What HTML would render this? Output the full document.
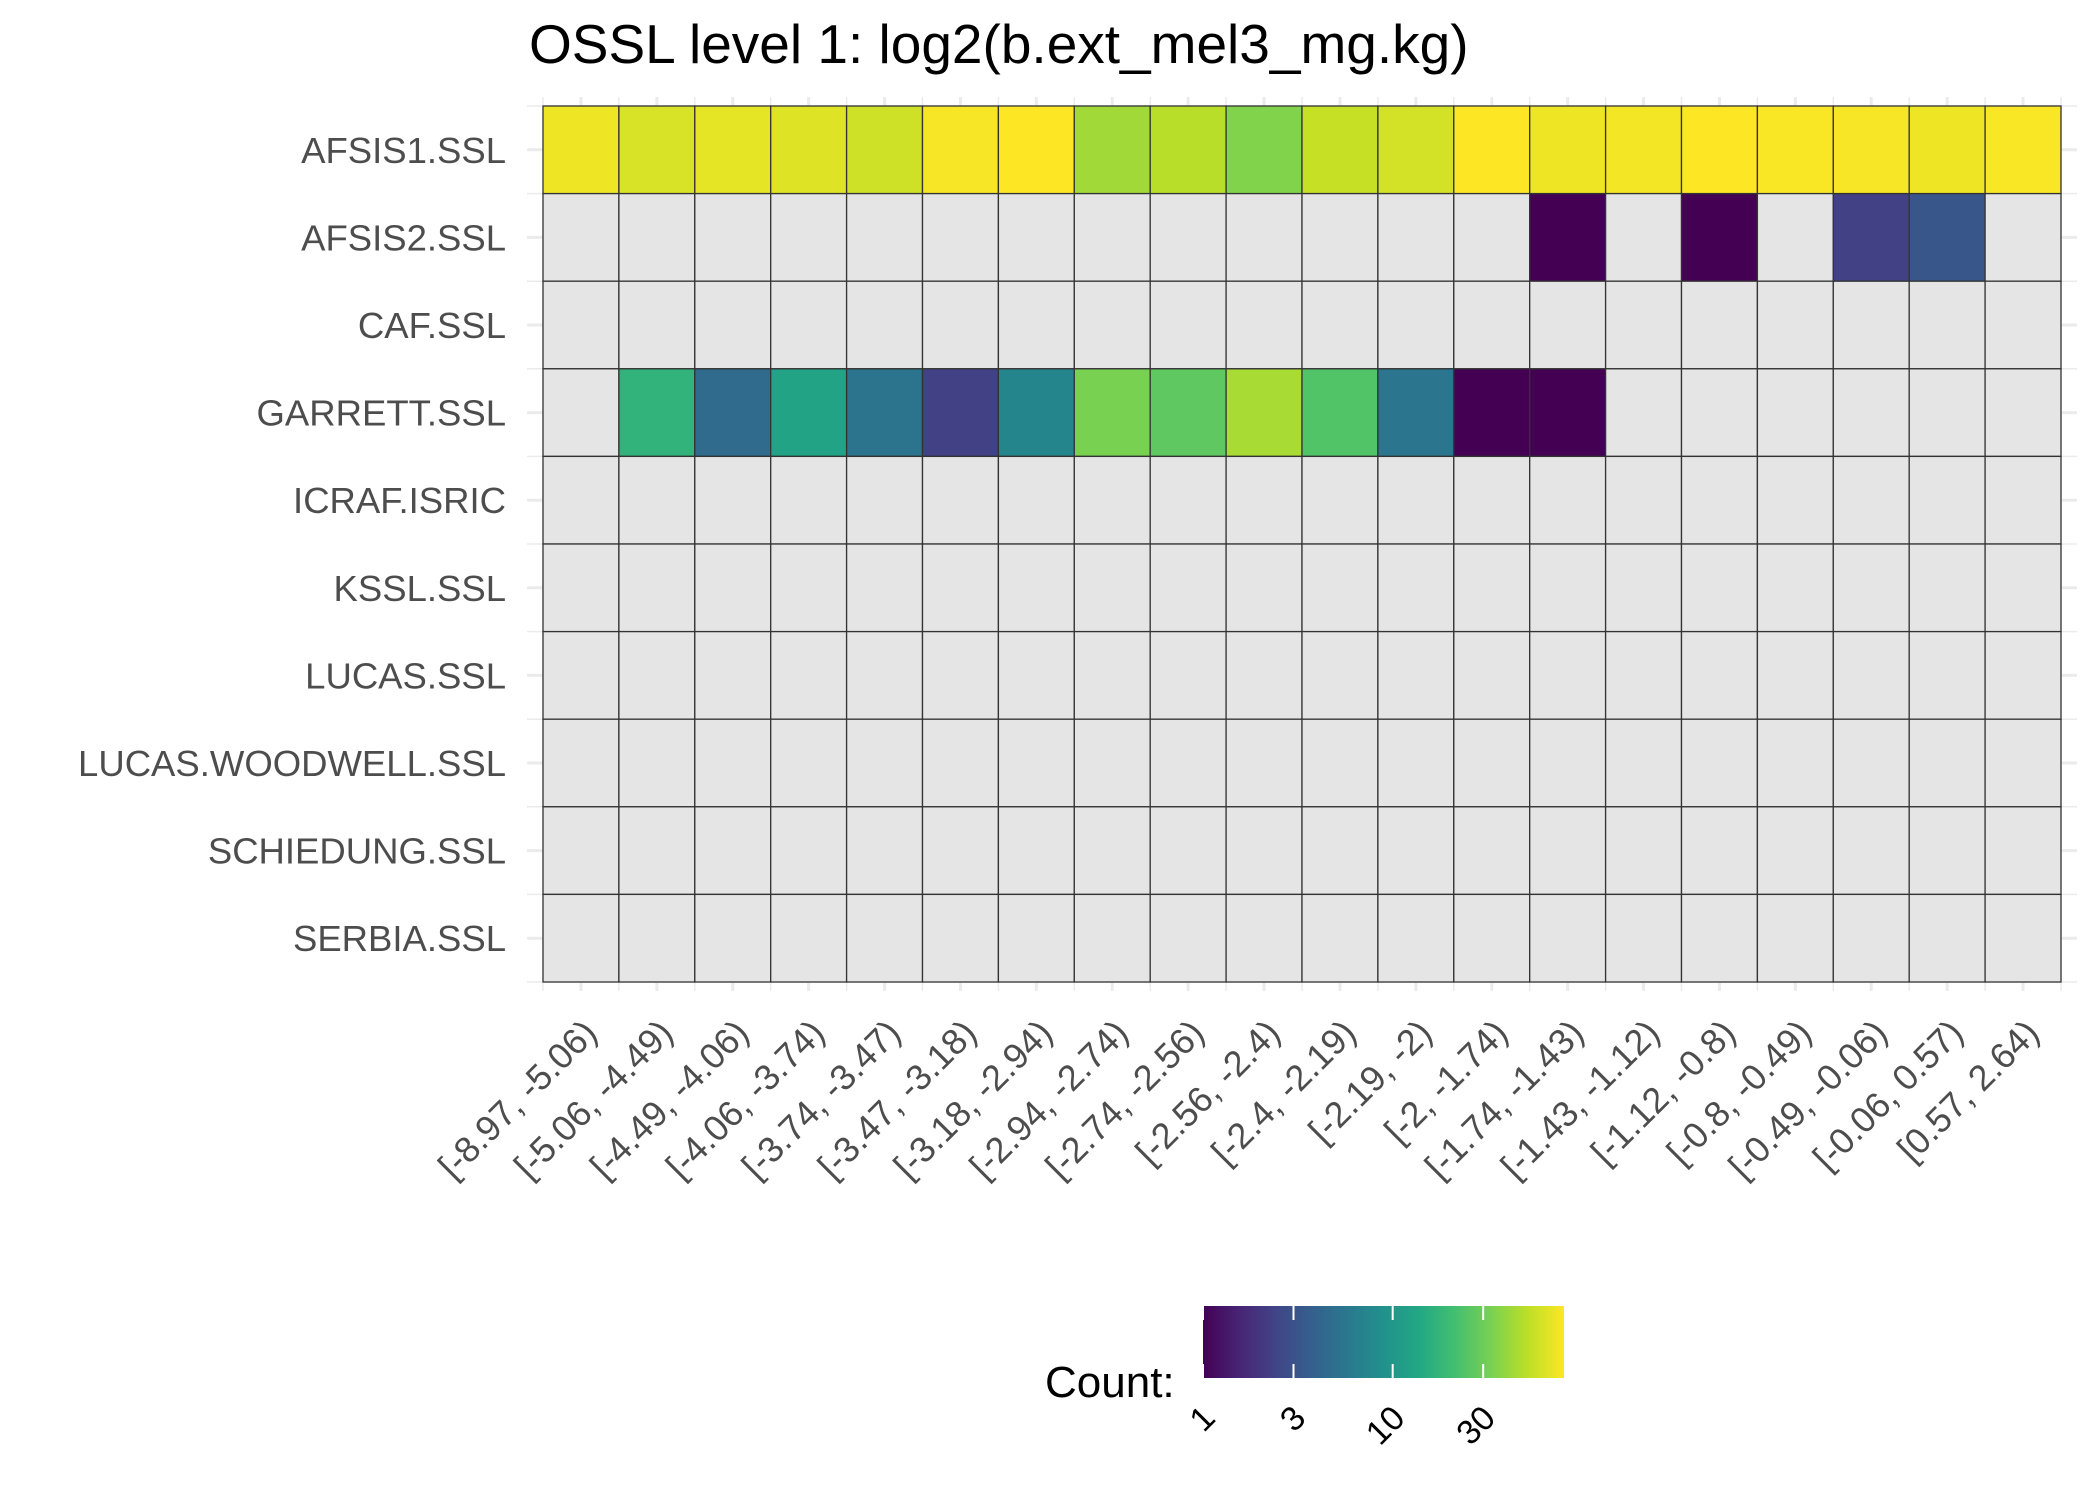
<!DOCTYPE html>
<html><head><meta charset="utf-8"><style>
html,body{margin:0;padding:0;background:#fff;}
svg{display:block;font-family:"Liberation Sans",Arial,sans-serif;}
</style></head><body>
<svg id="chart" width="2100" height="1500" viewBox="0 0 2100 1500" xmlns="http://www.w3.org/2000/svg">
<rect x="0" y="0" width="2100" height="1500" fill="#fff"/>
<text x="529" y="63" font-size="55" fill="#000">OSSL level 1: log2(b.ext_mel3_mg.kg)</text>
<g id="grid"></g>
<g id="tiles"></g>
<g id="yaxis"></g>
<g id="xaxis"></g>
<g id="legend">
<defs><linearGradient id="vir" x1="0" x2="1" y1="0" y2="0">
<stop offset="0" stop-color="#440154"/><stop offset="0.1" stop-color="#482475"/><stop offset="0.2" stop-color="#414487"/><stop offset="0.3" stop-color="#355f8d"/><stop offset="0.4" stop-color="#2a788e"/><stop offset="0.5" stop-color="#21918c"/><stop offset="0.6" stop-color="#22a884"/><stop offset="0.7" stop-color="#44bf70"/><stop offset="0.8" stop-color="#7ad151"/><stop offset="0.9" stop-color="#bddf26"/><stop offset="1" stop-color="#fde725"/>
</linearGradient></defs>
<text x="1045" y="1397" font-size="44" fill="#000">Count:</text>
<rect x="1203" y="1306" width="361" height="72" fill="url(#vir)"/>
</g>
</svg>
<script>
const categories = ["[-8.97, -5.06)","[-5.06, -4.49)","[-4.49, -4.06)","[-4.06, -3.74)","[-3.74, -3.47)","[-3.47, -3.18)","[-3.18, -2.94)","[-2.94, -2.74)","[-2.74, -2.56)","[-2.56, -2.4)","[-2.4, -2.19)","[-2.19, -2)","[-2, -1.74)","[-1.74, -1.43)","[-1.43, -1.12)","[-1.12, -0.8)","[-0.8, -0.49)","[-0.49, -0.06)","[-0.06, 0.57)","[0.57, 2.64)"];
const datasets = ["AFSIS1.SSL","AFSIS2.SSL","CAF.SSL","GARRETT.SSL","ICRAF.ISRIC","KSSL.SSL","LUCAS.SSL","LUCAS.WOODWELL.SSL","SCHIEDUNG.SSL","SERBIA.SSL"];
const N = null;
const afsis1 = [72,62,68,65,58,76,80,43,50,35,55,60,80,72,74,80,78,76,72,78];
const afsis2 = [N,N,N,N,N,N,N,N,N,N,N,N,N,1,N,1,N,2.3,3.2,N];
const caf = [N,N,N,N,N,N,N,N,N,N,N,N,N,N,N,N,N,N,N,N];
const garrett = [N,17,4.5,12.6,5.3,2.3,7.2,33,27,45,24,5.5,1,1,N,N,N,N,N,N];
const icraf = [N,N,N,N,N,N,N,N,N,N,N,N,N,N,N,N,N,N,N,N];
const kssl = [N,N,N,N,N,N,N,N,N,N,N,N,N,N,N,N,N,N,N,N];
const lucas = [N,N,N,N,N,N,N,N,N,N,N,N,N,N,N,N,N,N,N,N];
const woodwell = [N,N,N,N,N,N,N,N,N,N,N,N,N,N,N,N,N,N,N,N];
const schiedung = [N,N,N,N,N,N,N,N,N,N,N,N,N,N,N,N,N,N,N,N];
const serbia = [N,N,N,N,N,N,N,N,N,N,N,N,N,N,N,N,N,N,N,N];
const legendTicks = [1,3,10,30];
const countMax = 80;

const rows = [afsis1,afsis2,caf,garrett,icraf,kssl,lucas,woodwell,schiedung,serbia];
const NS = "http://www.w3.org/2000/svg";
const PL = 543, PT = 106, PR = 2061, PB = 982;
const cw = (PR-PL)/categories.length, rh = (PB-PT)/datasets.length;
function xs(i){ return PL + i*cw; }
function ys(j){ return PT + j*rh; }
const stops = ["#440154","#482475","#414487","#355f8d","#2a788e","#21918c","#22a884","#44bf70","#7ad151","#bddf26","#fde725"];
function hex(h){ return [1,3,5].map(k=>parseInt(h.substr(k,2),16)); }
function colorOf(v){
  let t = Math.log10(v)/Math.log10(countMax); t = Math.max(0,Math.min(1,t));
  const p = t*10, k = Math.min(9, Math.floor(p)), f = p-k;
  const a = hex(stops[k]), b = hex(stops[k+1]);
  return "rgb(" + a.map((c,i)=>Math.round(c+(b[i]-c)*f)).join(",") + ")";
}
function mk(tag, attrs, parent){
  const e = document.createElementNS(NS, tag);
  for (const k in attrs) e.setAttribute(k, attrs[k]);
  parent.appendChild(e); return e;
}
const grid = document.getElementById("grid");
for (let i=0;i<=categories.length*2;i++){
  const x = PL + i*cw/2;
  const l = mk("line",{x1:x,x2:x,y1:PT-9,y2:PB+9,stroke:"#ebebeb","stroke-width":(i%2)?3:1.5},grid);
  
  
}
for (let j=0;j<=datasets.length*2;j++){
  const y = PT + j*rh/2;
  const l = mk("line",{x1:PL-16,x2:PR+16,y1:y,y2:y,stroke:"#ebebeb","stroke-width":(j%2)?3:1.5},grid);
  
  
}
const tiles = document.getElementById("tiles");
rows.forEach((row,j)=>{
  row.forEach((v,i)=>{
    const r = mk("rect",{x:xs(i),y:ys(j),width:cw,height:rh,fill:(v==null)?"#e5e5e5":colorOf(v),stroke:"#333","stroke-width":1.3},tiles);
    
    
  });
});
const yaxis = document.getElementById("yaxis");
datasets.forEach((d,j)=>{
  const t = mk("text",{x:506,y:ys(j)+rh/2+13,"text-anchor":"end","font-size":36.5,fill:"#4d4d4d"},yaxis);
  t.textContent = d;
  
  
});
const xaxis = document.getElementById("xaxis");
categories.forEach((c,i)=>{
  const cx = xs(i)+cw/2 + 18, cy = 1035;
  const t = mk("text",{x:0,y:0,"text-anchor":"end","font-size":36,fill:"#4d4d4d",transform:"translate("+cx+","+cy+") rotate(-45)"},xaxis);
  t.textContent = c;
  
  
});
const legend = document.getElementById("legend");
const LX0 = 1203, LX1 = 1564;
function lx(v){ return LX0 + (LX1-LX0)*Math.log10(v)/Math.log10(countMax); }
legendTicks.forEach(v=>{
  const x = lx(v);
  [[1306,1320],[1364,1378]].forEach(s=>{
    const l = mk("line",{x1:x,x2:x,y1:s[0],y2:s[1],stroke:"#fff","stroke-width":2},legend);
    
    
  });
  const t = mk("text",{x:0,y:0,"text-anchor":"end","font-size":34,fill:"#000",transform:"translate("+(x+14)+","+1420+") rotate(-45)"},legend);
  t.textContent = v;
  
  
});
</script>
</body></html>
